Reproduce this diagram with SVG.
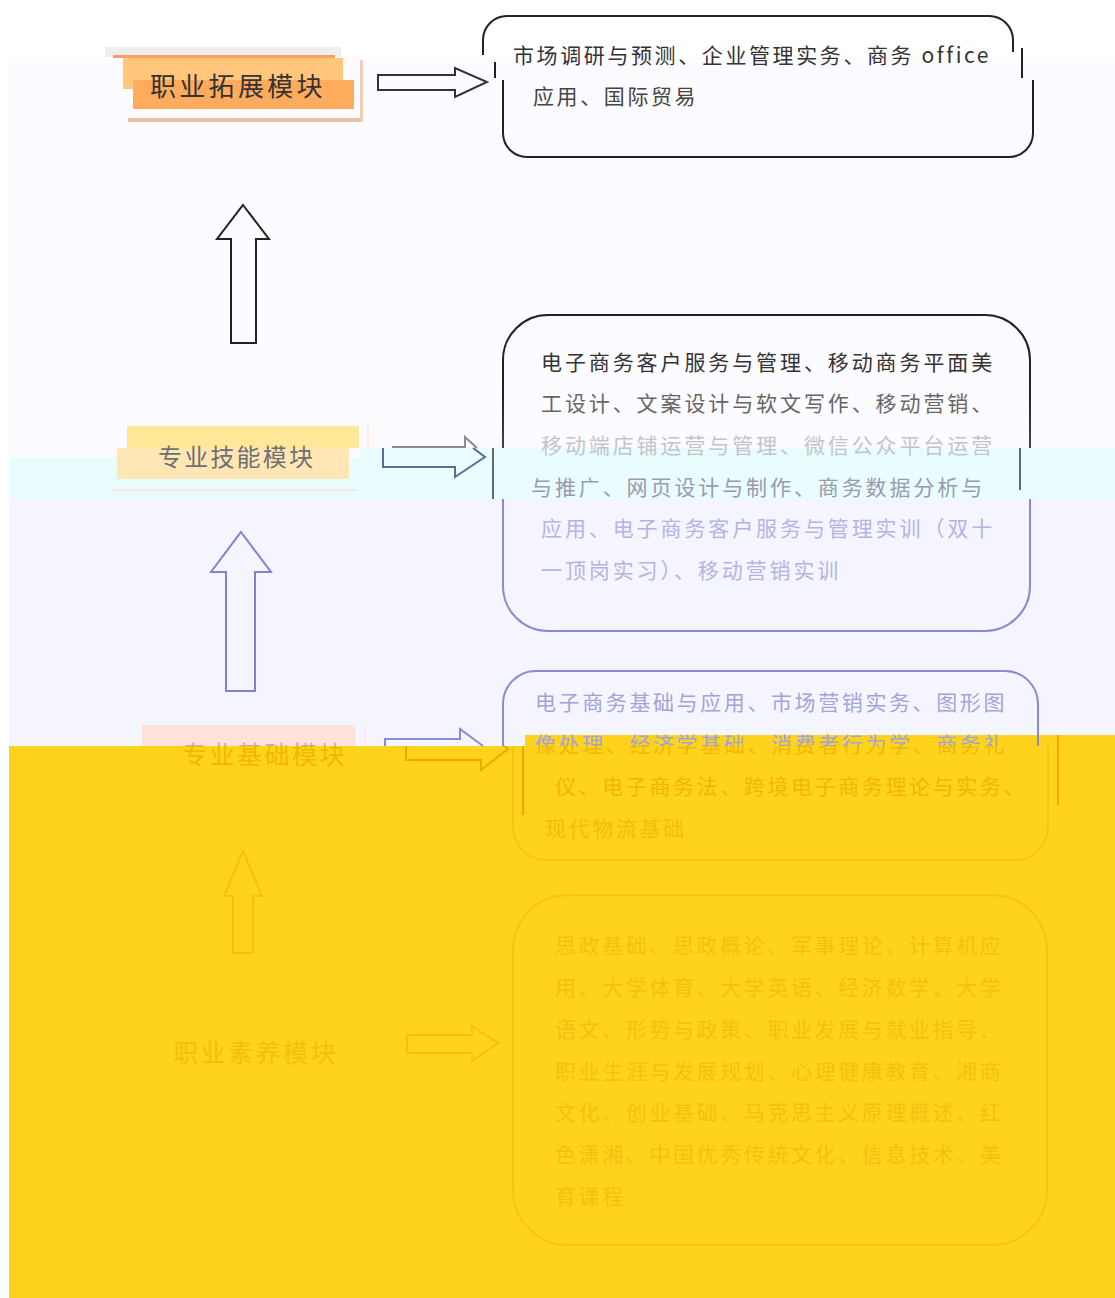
<svg xmlns="http://www.w3.org/2000/svg" width="1115" height="1298" viewBox="0 0 1115 1298">
<style>
text{font-family:"Noto Sans CJK SC","Noto Sans",sans-serif;}
.t{font-size:21px;letter-spacing:2.6px;}
.lab{font-size:25px;letter-spacing:2.5px;}
.ar{fill:none;stroke-width:2;stroke-linejoin:miter;}
</style>
<defs>
<linearGradient id="g2s" gradientUnits="userSpaceOnUse" x1="0" y1="315" x2="0" y2="631">
<stop offset="0" stop-color="#222"/><stop offset="0.237" stop-color="#222"/><stop offset="0.4209" stop-color="#444"/>
<stop offset="0.4209" stop-color="#444" stop-opacity="0"/><stop offset="0.5823" stop-color="#888" stop-opacity="0"/>
<stop offset="0.5823" stop-color="#8a8ad0"/><stop offset="1" stop-color="#8a8ad0"/>
</linearGradient>
<linearGradient id="g3t" gradientUnits="userSpaceOnUse" x1="0" y1="730" x2="0" y2="760">
<stop offset="0.5333" stop-color="#a0a4da"/><stop offset="0.5333" stop-color="#f2b600"/>
</linearGradient>
<linearGradient id="g3l" gradientUnits="userSpaceOnUse" x1="0" y1="740" x2="0" y2="770">
<stop offset="0.2" stop-color="#c8a8b0"/><stop offset="0.2" stop-color="#f2b600"/>
</linearGradient>
</defs>
<g id="background">
<rect x="0" y="0" width="1115" height="1298" fill="#ffffff"/>
<rect x="9" y="58" width="1106" height="390" fill="#fcfbff"/>
<rect x="360" y="448" width="755" height="51" fill="#e9fdff"/>
<rect x="9" y="458" width="351" height="41" fill="#e9fdff"/>
<rect x="9" y="448" width="351" height="10" fill="#fcfbff"/>
<rect x="9" y="499" width="1106" height="247" fill="#f5f5ff"/>
<rect x="9" y="746" width="1106" height="552" fill="#ffd21c"/>
<rect x="525" y="735" width="590" height="11" fill="#ffd21c"/>
</g>
<g id="connectors">
<polygon class="ar" stroke="#333" points="378,75 455,75 455,68 487,82 455,97 455,90 378,90"/>
<polygon class="ar" stroke="#222" points="243,205 269,239 256,239 256,343 231,343 231,239 217,239"/>
<path class="ar" stroke="#8a8a9a" d="M393,448 V447 H465 V437 L477,448"/>
<path class="ar" stroke="#5a6a98" d="M473,448 L485,457 L455,477 V467 H383 V448"/>
<polygon class="ar" stroke="#7f83cc" points="241,532 271,572 255,572 255,691 226,691 226,572 211,572"/>
<path class="ar" stroke="#8a8ad2" d="M385,746 V739 H460 V729 L483,746"/>
<path class="ar" stroke="#f0a800" d="M406,746 V760 H481 V770 L508,749 L504,746"/>
<polygon class="ar" stroke="#f5c013" points="243,851 262,896 253,896 253,953 233,953 233,896 224,896"/>
<polygon class="ar" stroke="#f5c013" points="407,1035 472,1035 472,1026 498,1043 472,1061 472,1053 407,1053"/>
</g>
<g id="label-expand">
<rect x="105" y="47" width="236" height="10" fill="#eeeeee"/>
<rect x="113" y="55" width="222" height="3" fill="#f5a25c"/>
<rect x="123" y="58" width="220" height="31" fill="#ffc67c"/>
<rect x="133" y="80" width="221" height="29" fill="#ffab5e"/>
<rect x="128" y="118" width="235" height="4" fill="#ebbfa5"/>
<rect x="360" y="60" width="3" height="62" fill="#f2cdb6"/>
<text class="lab" x="150" y="96" fill="#333" style="font-size:26px;letter-spacing:3.3px">职业拓展模块</text>
</g>
<g id="box-expand">
<path fill="none" stroke="#222" stroke-width="2" d="M483,55 V40 A24,24 0 0 1 507,16 H989 A24,24 0 0 1 1013,40 V52"/>
<path fill="none" stroke="#222" stroke-width="2" d="M495,62 V78 M1022,48 V78"/>
<path fill="none" stroke="#222" stroke-width="2" d="M503,80 V133 A24,24 0 0 0 527,157 H1009 A24,24 0 0 0 1033,133 V80"/>
<text class="t" x="513" y="63" fill="#333">市场调研与预测、企业管理实务、商务 office</text>
<text class="t" x="533" y="104" fill="#444">应用、国际贸易</text>
</g>
<g id="label-skill">
<rect x="127" y="426" width="232" height="22" fill="#ffe897"/>
<rect x="117" y="448" width="232" height="31" fill="#ffe7b5"/>
<rect x="367" y="424" width="2" height="24" fill="#fff0e0"/>
<rect x="112" y="489" width="245" height="2" fill="#ffe8e0"/>
<text class="lab" x="158" y="466" fill="#707070" style="font-size:24px;letter-spacing:2.2px">专业技能模块</text>
</g>
<g id="box-skill">
<rect x="503" y="315" width="527" height="316" rx="45" fill="none" stroke="url(#g2s)" stroke-width="2"/>
<path fill="none" stroke="#667" stroke-width="2" d="M493,448 V499 M1020,448 V490"/>
<text class="t" x="541" y="370" fill="#333" style="letter-spacing:2.9px">电子商务客户服务与管理、移动商务平面美</text>
<text class="t" x="541" y="411" fill="#666" style="letter-spacing:2.9px">工设计、文案设计与软文写作、移动营销、</text>
<text class="t" x="541" y="453" fill="#c4c4c8" style="letter-spacing:2.9px">移动端店铺运营与管理、微信公众平台运营</text>
<text class="t" x="531" y="495" fill="#9a9aac" style="letter-spacing:2.9px">与推广、网页设计与制作、商务数据分析与</text>
<text class="t" x="541" y="536" fill="#b4b4e2" style="letter-spacing:2.9px">应用、电子商务客户服务与管理实训（双十</text>
<text class="t" x="541" y="578" fill="#b4b4e2" style="letter-spacing:2.9px">一顶岗实习）、移动营销实训</text>
</g>
<g id="label-basic">
<rect x="142" y="725" width="213" height="21" fill="#ffe3da"/>
<rect x="364" y="724" width="2" height="22" fill="#ffe8f0"/>
<text class="lab" x="182" y="764" fill="url(#g3l)">专业基础模块</text>
</g>
<g id="box-basic">
<path fill="none" stroke="#8a8ad2" stroke-width="2" d="M503,746 V704 A33,33 0 0 1 536,671 H1005 A33,33 0 0 1 1038,704 V746"/>
<path fill="none" stroke="#f7c414" stroke-width="2" d="M513,746 V827 A33,33 0 0 0 546,860 H1015 A33,33 0 0 0 1048,827 V746"/>
<path fill="none" stroke="#f0a800" stroke-width="2" d="M523,746 V815 M1058,735 V805"/>
<text class="t" x="535" y="710" fill="#a0a4da">电子商务基础与应用、市场营销实务、图形图</text>
<text class="t" x="535" y="752" fill="url(#g3t)">像处理、经济学基础、消费者行为学、商务礼</text>
<text class="t" x="555" y="794" fill="#f2b600">仪、电子商务法、跨境电子商务理论与实务、</text>
<text class="t" x="545" y="836" fill="#f4bc08">现代物流基础</text>
</g>
<g id="label-quality">
<text class="lab" x="173" y="1062" fill="#f3be0e">职业素养模块</text>
</g>
<g id="box-quality">
<rect x="513" y="895" width="534" height="350" rx="55" fill="none" stroke="#f7c414" stroke-width="2"/>
<g fill="#f4c010">
<text class="t" x="555" y="953">思政基础、思政概论、军事理论、计算机应</text>
<text class="t" x="555" y="995">用、大学体育、大学英语、经济数学、大学</text>
<text class="t" x="555" y="1037">语文、形势与政策、职业发展与就业指导、</text>
<text class="t" x="555" y="1079">职业生涯与发展规划、心理健康教育、湘商</text>
<text class="t" x="555" y="1120">文化、创业基础、马克思主义原理概述、红</text>
<text class="t" x="555" y="1162">色潇湘、中国优秀传统文化、信息技术、美</text>
<text class="t" x="555" y="1204">育课程</text>
</g>
</g>
</svg>
